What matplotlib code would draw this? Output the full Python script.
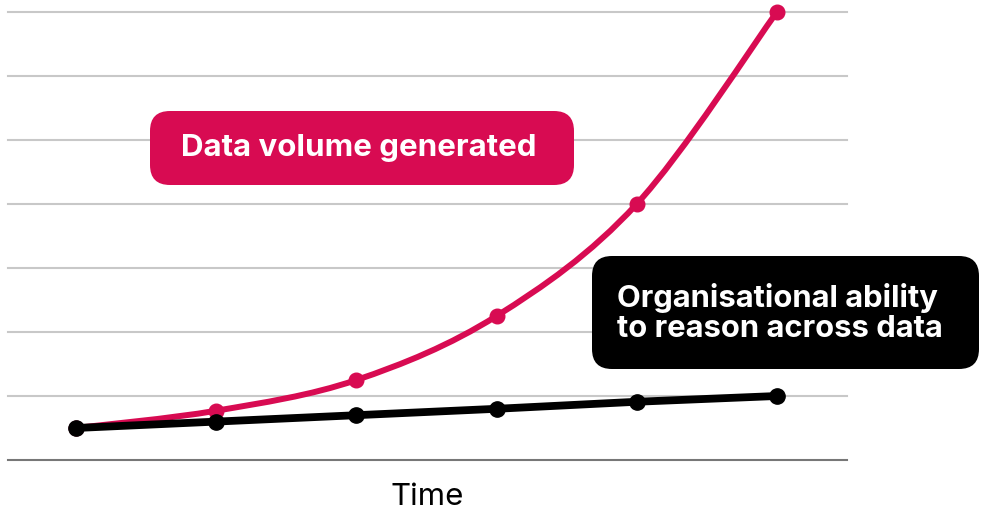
#!/usr/bin/env python3

import matplotlib
matplotlib.use('Agg')
import matplotlib.pyplot as plt
from matplotlib.path import Path
from matplotlib.patches import PathPatch, FancyBboxPatch

plt.rcParams['font.family'] = ['Inter', 'DejaVu Sans']

# time steps and the two (unitless) series
time_steps = [0, 1, 2, 3, 4, 5]
data_volume = [0.5, 0.77, 1.25, 2.25, 4.0, 7.0]
reasoning_ability = [0.5, 0.6, 0.7, 0.8, 0.91, 1.0]
grid_levels = [1, 2, 3, 4, 5, 6, 7]

RED = '#d80b52'

W, H = 984, 513
fig = plt.figure(figsize=(W / 100, H / 100), dpi=100)
ax = fig.add_axes([8 / W, 1 - 460 / H, (847 - 8) / W, 448 / H])
ax.set_xlim(-0.485, 5.5)
ax.set_ylim(0, 7)
for s in ax.spines.values():
    s.set_visible(False)
ax.set_xticks([])
ax.set_yticks([])
for g in grid_levels:
    ax.axhline(g, color='#c8c8c8', lw=1.5, zorder=0, clip_on=False)
ax.axhline(0, color='#777777', lw=1.5, zorder=0, clip_on=False)


def smooth_path(xs, ys):
    # catmull-rom through the points, drawn as cubic bezier segments
    verts = [(xs[0], ys[0])]
    codes = [Path.MOVETO]
    n = len(xs)
    for i in range(n - 1):
        x0, y0 = (xs[i - 1], ys[i - 1]) if i > 0 else (xs[i], ys[i])
        x1, y1 = xs[i], ys[i]
        x2, y2 = xs[i + 1], ys[i + 1]
        x3, y3 = (xs[i + 2], ys[i + 2]) if i + 2 < n else (x2, y2)
        c1 = (x1 + (x2 - x0) / 6, y1 + (y2 - y0) / 6)
        c2 = (x2 - (x3 - x1) / 6, y2 - (y3 - y1) / 6)
        verts += [c1, c2, (x2, y2)]
        codes += [Path.CURVE4] * 3
    return Path(verts, codes)


ax.add_patch(PathPatch(smooth_path(time_steps, data_volume), fill=False,
                       edgecolor=RED, lw=4.3, capstyle='round', zorder=2, clip_on=False))
ax.plot(time_steps, data_volume, 'o', color=RED, ms=10.5, zorder=3, clip_on=False)
ax.plot(time_steps, reasoning_ability, '-o', color='black', lw=5.6, ms=11,
        solid_capstyle='round', zorder=4, clip_on=False)

# overlay in pixel units for the label boxes
ov = fig.add_axes([0, 0, 1, 1])
ov.set_xlim(0, W)
ov.set_ylim(H, 0)
ov.axis('off')
ov.patch.set_alpha(0)

ov.text(427, 505, 'Time', ha='center', va='baseline', fontsize=22.5, color='black')

ov.add_patch(FancyBboxPatch((150 + 20, 111 + 20), 424 - 40, 74 - 40,
                            boxstyle='round,pad=20', fc=RED, ec='none'))
ov.text(359, 148, 'Data volume generated', ha='center', va='center',
        fontsize=22.5, fontweight='bold', color='white')

ov.add_patch(FancyBboxPatch((592 + 20, 256 + 20), 387 - 40, 113 - 40,
                            boxstyle='round,pad=20', fc='black', ec='none'))
ov.text(617, 313, 'Organisational ability\nto reason across data', ha='left',
        va='center', fontsize=22.3, fontweight='bold', color='white',
        linespacing=1.05)

fig.savefig('out.png', dpi=100)
